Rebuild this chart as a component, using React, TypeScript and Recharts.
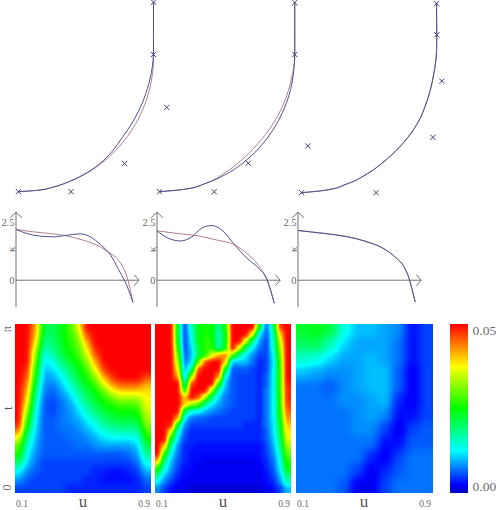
import React from 'react';
import { ComposedChart, Line, Scatter, ScatterChart, XAxis, YAxis, ReferenceLine, BarChart, Bar, LineChart } from 'recharts';

// control points and curves, x/y in units of the quarter circle radius
const marksA = [{ x: 0, y: 0 }, { x: 0.389, y: 0 }, { x: 0.785, y: 0.209 }, { x: 1.098, y: 0.624 }, { x: 1, y: 1.017 }, { x: 1, y: 1.404 }];
const marksB = [{ x: 0, y: 0 }, { x: 0.405, y: 0 }, { x: 0.657, y: 0.211 }, { x: 1.098, y: 0.339 }, { x: 1.002, y: 1.016 }, { x: 1.002, y: 1.401 }];
const marksC = [{ x: 0, y: 0 }, { x: 0.553, y: 0 }, { x: 0.973, y: 0.41 }, { x: 1.039, y: 0.827 }, { x: 1.002, y: 1.17 }, { x: 1, y: 1.4 }];

const curveAInner = [{ x: 0, y: 0 }, { x: 0.138, y: 0.01 }, { x: 0.262, y: 0.036 }, { x: 0.385, y: 0.08 }, { x: 0.509, y: 0.142 }, { x: 0.607, y: 0.212 }, { x: 0.694, y: 0.3 }, { x: 0.768, y: 0.4 }, { x: 0.854, y: 0.53 }, { x: 0.916, y: 0.655 }, { x: 0.965, y: 0.8 }, { x: 0.992, y: 0.93 }, { x: 1, y: 1.015 }, { x: 1, y: 1.172 }, { x: 1, y: 1.405 }];
const curveAOuter = [{ x: 0, y: 0 }, { x: 0.138, y: 0.01 }, { x: 0.262, y: 0.035 }, { x: 0.385, y: 0.077 }, { x: 0.509, y: 0.139 }, { x: 0.62, y: 0.215 }, { x: 0.719, y: 0.305 }, { x: 0.805, y: 0.407 }, { x: 0.887, y: 0.538 }, { x: 0.946, y: 0.676 }, { x: 0.985, y: 0.827 }, { x: 0.998, y: 0.93 }, { x: 1, y: 1.015 }, { x: 1, y: 1.172 }, { x: 1, y: 1.405 }];
const curveBOuter = [{ x: 0, y: 0 }, { x: 0.18, y: 0.017 }, { x: 0.353, y: 0.066 }, { x: 0.501, y: 0.134 }, { x: 0.649, y: 0.238 }, { x: 0.785, y: 0.38 }, { x: 0.884, y: 0.533 }, { x: 0.958, y: 0.71 }, { x: 0.995, y: 0.9 }, { x: 1.002, y: 1.015 }, { x: 1.002, y: 1.17 }, { x: 1.002, y: 1.405 }];
const curveBInner = [{ x: 0, y: 0 }, { x: 0.18, y: 0.017 }, { x: 0.353, y: 0.066 }, { x: 0.476, y: 0.135 }, { x: 0.6, y: 0.227 }, { x: 0.724, y: 0.35 }, { x: 0.835, y: 0.494 }, { x: 0.921, y: 0.655 }, { x: 0.975, y: 0.827 }, { x: 1.002, y: 1.015 }, { x: 1.002, y: 1.17 }, { x: 1.002, y: 1.405 }];
const curveCRed = [{ x: 0, y: 0 }, { x: 0.165, y: 0.017 }, { x: 0.338, y: 0.066 }, { x: 0.487, y: 0.141 }, { x: 0.635, y: 0.252 }, { x: 0.758, y: 0.375 }, { x: 0.857, y: 0.511 }, { x: 0.931, y: 0.684 }, { x: 0.98, y: 0.881 }, { x: 1, y: 1.054 }, { x: 1.002, y: 1.172 }, { x: 1, y: 1.407 }];
const curveCBlue = [{ x: 0, y: 0 }, { x: 0.165, y: 0.016 }, { x: 0.338, y: 0.065 }, { x: 0.487, y: 0.14 }, { x: 0.635, y: 0.25 }, { x: 0.758, y: 0.373 }, { x: 0.857, y: 0.51 }, { x: 0.931, y: 0.683 }, { x: 0.98, y: 0.88 }, { x: 1.001, y: 1.054 }, { x: 1.002, y: 1.172 }, { x: 1, y: 1.407 }];

// curvature plots, u against kappa
const kappaARed = [{ x: 0, y: 2.2 }, { x: 0.151, y: 2.095 }, { x: 0.293, y: 2.02 }, { x: 0.436, y: 1.92 }, { x: 0.578, y: 1.73 }, { x: 0.721, y: 1.445 }, { x: 0.806, y: 1.156 }, { x: 0.863, y: 0.94 }, { x: 0.92, y: 0.506 }, { x: 0.957, y: 0 }, { x: 1, y: -0.97 }];
const kappaABlue = [{ x: 0, y: 2.2 }, { x: 0.094, y: 2.02 }, { x: 0.208, y: 1.91 }, { x: 0.322, y: 1.88 }, { x: 0.436, y: 1.95 }, { x: 0.55, y: 2.01 }, { x: 0.635, y: 1.88 }, { x: 0.721, y: 1.546 }, { x: 0.806, y: 1.11 }, { x: 0.877, y: 0.46 }, { x: 0.926, y: 0 }, { x: 0.963, y: -0.43 }, { x: 1, y: -0.97 }];
const kappaBRed = [{ x: 0, y: 2.14 }, { x: 0.17, y: 2.03 }, { x: 0.34, y: 1.93 }, { x: 0.511, y: 1.74 }, { x: 0.653, y: 1.55 }, { x: 0.767, y: 1.16 }, { x: 0.852, y: 0.73 }, { x: 0.937, y: 0 }, { x: 1, y: -1 }];
const kappaBBlue = [{ x: 0, y: 2.14 }, { x: 0.085, y: 1.85 }, { x: 0.199, y: 1.7 }, { x: 0.298, y: 1.88 }, { x: 0.384, y: 2.27 }, { x: 0.469, y: 2.37 }, { x: 0.554, y: 2.17 }, { x: 0.653, y: 1.59 }, { x: 0.767, y: 0.95 }, { x: 0.866, y: 0.52 }, { x: 0.937, y: 0.05 }, { x: 1, y: -1 }];
const kappaCRed = [{ x: 0, y: 2.155 }, { x: 0.213, y: 2.04 }, { x: 0.412, y: 1.9 }, { x: 0.582, y: 1.68 }, { x: 0.724, y: 1.39 }, { x: 0.838, y: 0.96 }, { x: 0.909, y: 0.53 }, { x: 0.952, y: 0 }, { x: 0.98, y: -0.55 }, { x: 1, y: -0.95 }];
const kappaCBlue = [{ x: 0, y: 2.155 }, { x: 0.213, y: 2.03 }, { x: 0.412, y: 1.89 }, { x: 0.582, y: 1.67 }, { x: 0.724, y: 1.385 }, { x: 0.838, y: 0.96 }, { x: 0.909, y: 0.54 }, { x: 0.952, y: 0 }, { x: 0.98, y: -0.55 }, { x: 1, y: -0.95 }];
const kappaTicks = [0, 2.5];

// error maps, thousandths, top row is t = pi, saturated at 50
const heatA = [
  [50, 50, 42, 22, 21, 24, 28, 36, 50, 50, 50, 50, 50, 50, 50, 50],
  [50, 50, 40, 20, 20, 24, 27, 32, 46, 50, 50, 50, 50, 50, 50, 50],
  [50, 50, 37, 18, 19, 23, 26, 30, 40, 50, 50, 50, 50, 50, 50, 50],
  [50, 50, 32, 14, 17, 22, 25, 28, 36, 47, 50, 50, 50, 50, 50, 50],
  [50, 50, 30, 12, 14, 19, 23, 26, 32, 42, 50, 50, 50, 50, 50, 50],
  [50, 48, 26, 10, 11, 15, 20, 24, 28, 37, 47, 50, 50, 50, 50, 50],
  [50, 46, 24, 9, 9, 12, 17, 22, 26, 31, 41, 47, 50, 50, 50, 46],
  [50, 43, 20, 8, 7, 10, 14, 19, 23, 27, 34, 41, 44, 44, 44, 40],
  [50, 40, 17, 7, 6, 8, 11, 16, 21, 24, 28, 33, 36, 36, 36, 38],
  [50, 37, 15, 6, 5, 7, 9, 13, 18, 22, 25, 27, 29, 29, 30, 37],
  [50, 32, 13, 6, 5, 7, 8, 11, 15, 19, 22, 24, 25, 25, 26, 35],
  [50, 27, 12, 6, 6, 7, 8, 9, 12, 15, 19, 21, 22, 22, 23, 33],
  [46, 23, 11, 6, 6, 7, 7, 8, 10, 12, 15, 17, 18, 18, 19, 30],
  [38, 18, 10, 6, 6, 6, 7, 7, 8, 10, 12, 13, 13, 13, 14, 26],
  [30, 15, 9, 6, 6, 6, 6, 7, 7, 8, 9, 9, 9, 9, 11, 22],
  [26, 13, 8, 6, 6, 6, 6, 6, 6, 6, 6, 6, 6, 7, 9, 18],
  [20, 11, 7, 5, 5, 5, 5, 5, 5, 5, 5, 5, 5, 5, 7, 14],
  [13, 8, 6, 5, 5, 5, 5, 5, 5, 4, 4, 3, 3, 4, 5, 10],
  [9, 6, 5, 5, 5, 5, 5, 5, 4, 4, 3, 3, 3, 3, 4, 7],
  [5, 5, 5, 5, 5, 5, 4, 4, 4, 4, 4, 4, 4, 4, 4, 5],
];
const heatB = [
  [50, 50, 50, 22, 5, 16, 24, 26, 25, 18, 26, 50, 50, 50, 50, 24, 6, 18, 47, 50],
  [50, 50, 50, 22, 5, 14, 24, 26, 25, 16, 24, 50, 50, 50, 36, 12, 6, 15, 40, 50],
  [50, 50, 50, 23, 5, 13, 24, 27, 26, 16, 24, 50, 50, 36, 18, 9, 5, 14, 35, 50],
  [50, 50, 50, 26, 5, 11, 22, 27, 27, 17, 25, 50, 36, 20, 12, 7, 5, 14, 32, 50],
  [50, 50, 50, 30, 6, 10, 22, 26, 36, 42, 44, 30, 18, 12, 8, 5, 5, 12, 30, 50],
  [50, 50, 50, 33, 7, 11, 30, 46, 50, 50, 40, 10, 10, 10, 7, 4, 5, 11, 28, 50],
  [50, 50, 50, 37, 9, 18, 46, 50, 50, 50, 24, 6, 6, 6, 5, 4, 5, 12, 27, 50],
  [50, 50, 50, 42, 10, 32, 50, 50, 50, 44, 14, 6, 5, 5, 5, 4, 6, 12, 27, 50],
  [50, 50, 50, 50, 16, 46, 50, 50, 50, 28, 10, 6, 5, 5, 5, 4, 6, 12, 27, 49],
  [50, 50, 50, 50, 25, 50, 50, 50, 34, 16, 9, 6, 5, 5, 5, 4, 7, 12, 27, 48],
  [50, 50, 50, 50, 40, 50, 46, 34, 20, 11, 7, 6, 5, 5, 5, 4, 7, 12, 26, 48],
  [50, 50, 50, 50, 40, 33, 30, 18, 12, 9, 7, 6, 5, 5, 5, 4, 7, 12, 26, 47],
  [50, 50, 50, 50, 22, 14, 13, 10, 8, 7, 6, 5, 5, 5, 5, 4, 7, 12, 25, 45],
  [50, 50, 50, 42, 12, 7, 6, 6, 5, 5, 5, 5, 5, 5, 5, 4, 7, 12, 24, 43],
  [50, 50, 48, 22, 8, 5, 5, 5, 5, 5, 5, 5, 5, 4, 4, 4, 7, 11, 22, 40],
  [50, 50, 35, 14, 6, 4, 4, 4, 4, 4, 4, 4, 4, 4, 4, 4, 6, 11, 21, 38],
  [50, 50, 24, 11, 5, 4, 4, 4, 4, 4, 4, 4, 4, 4, 4, 4, 6, 10, 19, 36],
  [50, 40, 17, 8, 4, 4, 3, 3, 3, 3, 3, 3, 3, 3, 3, 3, 5, 9, 17, 33],
  [50, 28, 13, 7, 4, 3, 3, 3, 3, 3, 3, 3, 3, 3, 3, 3, 5, 8, 15, 30],
  [42, 20, 10, 6, 4, 3, 3, 2, 2, 2, 2, 2, 2, 2, 2, 3, 4, 7, 13, 27],
  [28, 15, 9, 5, 3, 3, 2, 2, 2, 2, 2, 2, 2, 2, 2, 2, 4, 6, 12, 25],
  [20, 11, 7, 4, 3, 2, 2, 2, 2, 2, 2, 2, 2, 2, 2, 2, 3, 5, 10, 20],
  [13, 8, 5, 3, 2, 2, 2, 2, 2, 2, 2, 2, 2, 2, 2, 2, 3, 4, 8, 16],
  [8, 5, 3, 2, 2, 1, 1, 1, 1, 1, 1, 1, 1, 1, 1, 1, 2, 3, 5, 10],
];
const heatC = [
  [23, 24, 22, 14, 10, 10, 9, 8, 3, 5],
  [20, 21, 16, 11, 9, 9, 9, 7, 3, 5],
  [15, 14, 11, 9, 9, 10, 9, 7, 3, 5],
  [10, 9, 8, 8, 9, 10, 10, 6, 2, 5],
  [7, 7, 6, 8, 9, 10, 10, 6, 2, 5],
  [7, 7, 7, 8, 8, 9, 10, 4, 2, 5],
  [7, 7, 7, 7, 8, 9, 8, 3, 3, 5],
  [7, 7, 7, 7, 8, 8, 5, 2, 5, 6],
  [7, 7, 7, 7, 7, 7, 3, 3, 6, 6],
  [7, 7, 7, 7, 7, 4, 2, 5, 7, 7],
  [7, 7, 7, 7, 5, 2, 4, 6, 7, 7],
  [7, 7, 7, 6, 2, 2, 5, 7, 7, 7],
];

const uTicks = [0.1, 0.9];
const tTicks = [0, Math.PI];
const scaleTicks = [0, 0.05];
const scaleRow = [{ name: 'error', value: 0.05 }];

const jetStops = [0, 0.05, 0.25, 0.5, 0.75, 1];
const jetColors = [[0, 0, 190], [0, 0, 255], [0, 255, 255], [0, 255, 0], [255, 255, 0], [255, 0, 0]];

const FONT = '"Liberation Serif", serif';
const TEXT = '#6a6a6a';
const BLUE = '#4f4f90';
const RED = '#b27f8c';
const RADIUS = 135;
const PAD = 2;

function jetAt(f: number) {
  let i = 0;
  while (i < jetStops.length - 2 && f > jetStops[i + 1]) i++;
  const t = (f - jetStops[i]) / (jetStops[i + 1] - jetStops[i]);
  return jetColors[i].map((c, k) => c + (jetColors[i + 1][k] - c) * t);
}

const steps = Array.from({ length: 101 }, (_, i) => jetAt(i / 100));
const table = (k: number) => steps.map(s => (s[k] / 255).toFixed(3)).join(' ');

const Cross = (props: any) => {
  const { cx, cy } = props;
  const r = 2.6;
  return (
    <g stroke="#3c3c7c" strokeWidth={1}>
      <line x1={cx - r} y1={cy - r} x2={cx + r} y2={cy + r} />
      <line x1={cx - r} y1={cy + r} x2={cx + r} y2={cy - r} />
    </g>
  );
};

const CurvePanel = ({ x0, y0, marks, lines }: { x0: number; y0: number; marks: any[]; lines: { data: any[]; color: string }[] }) => (
  <div style={{ position: 'absolute', left: x0 - 0.1 * RADIUS, top: y0 - 1.42 * RADIUS }}>
    <ComposedChart width={1.3 * RADIUS} height={1.47 * RADIUS} margin={{ top: 0, right: 0, bottom: 0, left: 0 }}>
      <XAxis dataKey="x" type="number" domain={[-0.1, 1.2]} hide />
      <YAxis dataKey="y" type="number" domain={[-0.05, 1.42]} hide />
      {lines.map((l, i) => (
        <Line key={i} data={l.data} dataKey="y" type="monotoneY" stroke={l.color} strokeWidth={1} dot={false} isAnimationActive={false} />
      ))}
      <Scatter data={marks} dataKey="y" shape={Cross} isAnimationActive={false} />
    </ComposedChart>
  </div>
);

const arrowStyle = { stroke: '#707070', strokeWidth: 1, ifOverflow: 'visible' as const };

const KappaPanel = ({ axisX, scale, red, blue }: { axisX: number; scale: number; red: any[]; blue: any[] }) => (
  <div style={{ position: 'absolute', left: axisX - 15, top: 280.3 - 3 * 23.07 }}>
    <ComposedChart width={15 + 1.08 * scale} height={4.2 * 23.07} margin={{ top: 0, right: 0, bottom: 0, left: 0 }}>
      <XAxis dataKey="x" type="number" domain={[0, 1.08]} hide />
      <YAxis
        dataKey="y"
        type="number"
        width={15}
        domain={[-1.2, 3]}
        ticks={kappaTicks}
        interval={0}
        axisLine={false}
        tickLine={false}
        tickSize={0}
        tickMargin={1.5}
        tick={{ fontSize: 10.5, fontFamily: FONT, fill: TEXT }}
        label={{ value: 'κ', angle: -90, position: 'insideRight', offset: 0, dy: -13, dx: -5, fontSize: 11, fontFamily: FONT, fill: TEXT }}
      />
      <ReferenceLine segment={[{ x: 0, y: -1.16 }, { x: 0, y: 2.95 }]} {...arrowStyle} />
      <ReferenceLine segment={[{ x: 0, y: 0 }, { x: 1.05, y: 0 }]} {...arrowStyle} />
      <ReferenceLine segment={[{ x: -0.05, y: 2.7 }, { x: 0, y: 2.95 }]} {...arrowStyle} />
      <ReferenceLine segment={[{ x: 0.05, y: 2.7 }, { x: 0, y: 2.95 }]} {...arrowStyle} />
      <ReferenceLine segment={[{ x: 1.01, y: 0.24 }, { x: 1.05, y: 0 }]} {...arrowStyle} />
      <ReferenceLine segment={[{ x: 1.01, y: -0.24 }, { x: 1.05, y: 0 }]} {...arrowStyle} />
      <Line data={red} dataKey="y" type="monotone" stroke={RED} strokeWidth={1} dot={false} isAnimationActive={false} />
      <Line data={blue} dataKey="y" type="monotone" stroke={BLUE} strokeWidth={1} dot={false} isAnimationActive={false} />
    </ComposedChart>
  </div>
);

const HeatCell = (props: any) => {
  const { cx, cy, payload, cw, ch } = props;
  const g = Math.round((Math.min(payload.v, 50) / 50) * 255);
  return <rect x={cx - cw / 2 - 0.5} y={cy - ch / 2 - 0.5} width={cw + 1} height={ch + 1} fill={`rgb(${g},${g},${g})`} />;
};

// gray cells go through the blur and colour table filter below
const HeatPanel = ({ left, rows, blur, width = 136, height = 168.5 }: { left: number; rows: number[][]; blur: string; width?: number; height?: number }) => {
  const nr = rows.length;
  const nc = rows[0].length;
  const cw = width / nc;
  const ch = height / nr;
  const cells: { c: number; r: number; v: number }[] = [];
  for (let r = -PAD; r < nr + PAD; r++) {
    for (let c = -PAD; c < nc + PAD; c++) {
      const rr = Math.max(0, Math.min(nr - 1, r));
      const cc = Math.max(0, Math.min(nc - 1, c));
      cells.push({ c, r, v: rows[rr][cc] });
    }
  }
  return (
    <div style={{ position: 'absolute', left, top: 324, width, height, overflow: 'hidden' }}>
      <div style={{ position: 'absolute', left: -PAD * cw, top: -PAD * ch, filter: `url(#${blur})` }}>
        <ScatterChart width={width + 2 * PAD * cw} height={height + 2 * PAD * ch} margin={{ top: 0, right: 0, bottom: 0, left: 0 }}>
          <XAxis dataKey="c" type="number" domain={[-PAD - 0.5, nc + PAD - 0.5]} hide />
          <YAxis dataKey="r" type="number" domain={[-PAD - 0.5, nr + PAD - 0.5]} reversed hide />
          <Scatter data={cells} shape={(p: any) => <HeatCell {...p} cw={cw} ch={ch} />} isAnimationActive={false} />
        </ScatterChart>
      </div>
    </div>
  );
};

const UTick = (props: any) => {
  const { x, y, payload } = props;
  const first = payload.value < 0.5;
  return (
    <text x={first ? x + 1 : x - 1} y={y + 6} textAnchor={first ? 'start' : 'end'} fontSize={9.5} fontFamily={FONT} fill={TEXT}>
      {payload.value}
    </text>
  );
};

const TTick = (props: any) => {
  const { x, y, payload } = props;
  const top = payload.value > 1;
  const ty = top ? y + 5 : y - 5;
  return (
    <text transform={`rotate(-90 ${x} ${ty})`} x={x} y={ty} dy="0.35em" textAnchor="middle" fontSize={12} fontFamily={FONT} fill={TEXT}>
      {top ? 'π' : '0'}
    </text>
  );
};

const HeatAxes = ({ left, withT }: { left: number; withT?: boolean }) => (
  <div style={{ position: 'absolute', left: left - 15, top: 324 }}>
    <LineChart width={151} height={186} data={[{ u: 0.1, t: 0 }, { u: 0.9, t: Math.PI }]} margin={{ top: 0, right: 0, bottom: 0, left: 0 }}>
      <XAxis
        dataKey="u"
        type="number"
        domain={[0.1, 0.9]}
        ticks={uTicks}
        interval={0}
        height={17.5}
        axisLine={false}
        tickLine={false}
        tick={UTick}
        label={{ value: 'u', position: 'insideBottom', offset: 3, fontSize: 17, fontFamily: FONT, fill: '#555' }}
      />
      <YAxis
        dataKey="t"
        type="number"
        width={15}
        domain={[0, Math.PI]}
        ticks={tTicks}
        interval={0}
        axisLine={false}
        tickLine={false}
        tick={withT ? TTick : false}
        label={withT ? { value: 't', angle: -90, position: 'center', dx: 0, fontSize: 13, fontFamily: FONT, fill: '#555' } : undefined}
      />
    </LineChart>
  </div>
);

const ScaleTick = (props: any) => {
  const { x, y, payload } = props;
  const top = payload.value > 0.01;
  return (
    <text x={x + 4.5} y={top ? y + 11 : y - 2} fontSize={13.5} fontFamily={FONT} fill={TEXT}>
      {payload.value.toFixed(2)}
    </text>
  );
};

const App: React.FC = () => (
  <div style={{ position: 'absolute', left: 0, top: 0, width: 499, height: 510, background: '#fff', overflow: 'hidden' }}>
    <svg width={0} height={0} style={{ position: 'absolute' }}>
      <defs>
        {[['blurA', 3.2], ['blurB', 2], ['blurC', 4.5]].map(([id, sd]) => (
          <filter key={id} id={id as string} x="0" y="0" width="100%" height="100%" colorInterpolationFilters="sRGB">
            <feGaussianBlur stdDeviation={sd} />
            <feComponentTransfer>
              <feFuncR type="table" tableValues={table(0)} />
              <feFuncG type="table" tableValues={table(1)} />
              <feFuncB type="table" tableValues={table(2)} />
            </feComponentTransfer>
          </filter>
        ))}
      </defs>
    </svg>

    <CurvePanel x0={18} y0={191.6} marks={marksA} lines={[{ data: curveAOuter, color: RED }, { data: curveAInner, color: BLUE }]} />
    <CurvePanel x0={159} y0={191.7} marks={marksB} lines={[{ data: curveBInner, color: RED }, { data: curveBOuter, color: BLUE }]} />
    <CurvePanel x0={301} y0={192.3} marks={marksC} lines={[{ data: curveCRed, color: RED }, { data: curveCBlue, color: BLUE }]} />

    <KappaPanel axisX={15.7} scale={117} red={kappaARed} blue={kappaABlue} />
    <KappaPanel axisX={156.7} scale={117.3} red={kappaBRed} blue={kappaBBlue} />
    <KappaPanel axisX={298.3} scale={117.3} red={kappaCRed} blue={kappaCBlue} />

    <HeatPanel left={15} rows={heatA} blur="blurA" />
    <HeatPanel left={155} rows={heatB} blur="blurB" />
    <HeatPanel left={296} rows={heatC} blur="blurC" width={137} />
    <HeatAxes left={15} withT />
    <HeatAxes left={155} />
    <HeatAxes left={296} />

    <div style={{ position: 'absolute', left: 450, top: 324 }}>
      <BarChart width={49} height={169} data={scaleRow} barCategoryGap={0} margin={{ top: 0, right: 0, bottom: 0, left: 0 }}>
        <defs>
          <linearGradient id="jetBar" x1="0" y1="1" x2="0" y2="0">
            {jetStops.map((s, i) => (
              <stop key={s} offset={s} stopColor={`rgb(${jetColors[i].join(',')})`} />
            ))}
          </linearGradient>
        </defs>
        <XAxis dataKey="name" hide />
        <YAxis orientation="right" width={31} domain={[0, 0.05]} ticks={scaleTicks} interval={0} axisLine={false} tickLine={false} tickSize={0} tickMargin={0} tick={ScaleTick} />
        <Bar dataKey="value" fill="url(#jetBar)" isAnimationActive={false} />
      </BarChart>
    </div>
  </div>
);

export default App;
